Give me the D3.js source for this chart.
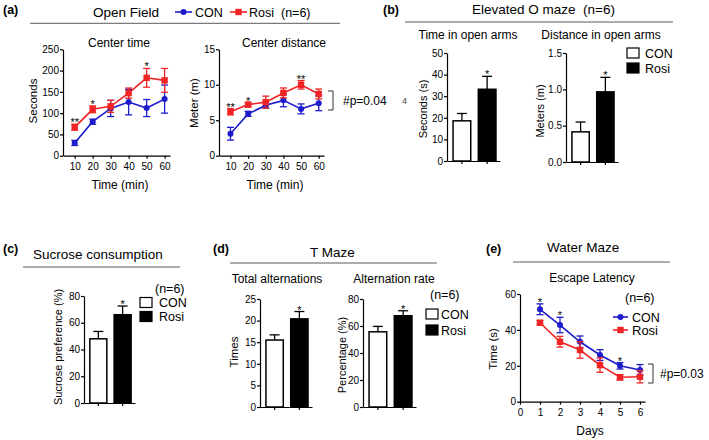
<!DOCTYPE html>
<html><head><meta charset="utf-8">
<script src="https://cdn.jsdelivr.net/npm/d3@7"></script>
<style>
body{margin:0;background:#fff}
svg{display:block;font-family:"Liberation Sans",Arial,sans-serif}
</style></head><body>
<svg id="chart" width="709" height="440"></svg>
<script>
// ---------- DATA ----------
const groups = ["CON", "Rosi"];
const timePoints = [10, 20, 30, 40, 50, 60];
const centerTimeCON = [30, 80, 111, 126, 112, 133];
const centerTimeCONErr = [6, 6, 19, 30, 20, 33];
const centerTimeRosi = [67, 109, 116, 147, 183, 177];
const centerTimeRosiErr = [7, 8, 14, 12, 22, 28];
const centerTimeStars = ["**", "*", "", "", "*", ""];
const centerDistCON = [3.1, 5.9, 7.1, 7.8, 6.6, 7.4];
const centerDistCONErr = [0.9, 0.35, 0.4, 0.9, 0.7, 1.05];
const centerDistRosi = [6.2, 7.2, 7.55, 8.85, 10.0, 8.7];
const centerDistRosiErr = [0.45, 0.3, 0.85, 0.7, 0.6, 0.7];
const centerDistStars = ["**", "*", "", "", "**", ""];
const timeTicks = [10, 20, 30, 40, 50, 60];
const secondsTicks = [0, 50, 100, 150, 200, 250];
const meterTicks = [0, 5, 10, 15];

const openArmTime = [18.6, 33.2];
const openArmTimeErr = [3.4, 6.0];
const openArmDist = [0.415, 0.965];
const openArmDistErr = [0.135, 0.2];
const openArmTimeTicks = [0, 10, 20, 30, 40, 50];
const openArmDistTicks = [0, 0.5, 1.0, 1.5];

const sucrosePref = [48, 66];
const sucrosePrefErr = [5.5, 6.5];
const sucroseTicks = [0, 20, 40, 60, 80];

const totalAlt = [15.5, 20.4];
const totalAltErr = [1.2, 1.7];
const totalAltTicks = [0, 5, 10, 15, 20, 25];
const altRate = [55.7, 67.6];
const altRateErr = [4, 3.7];
const altRateTicks = [0, 20, 40, 60, 80];

const days = [1, 2, 3, 4, 5, 6];
const escapeCON = [51.5, 42.7, 33.4, 26, 20, 17.7];
const escapeCONErr = [3, 4.3, 3.2, 3, 1.8, 3];
const escapeRosi = [44, 33.4, 28.8, 20.4, 13.6, 13.9];
const escapeRosiErr = [1.2, 3, 4.6, 4, 1.5, 3.4];
const escapeStars = ["*", "*", "", "", "*", ""];
const dayTicks = [0, 1, 2, 3, 4, 5, 6];
const escapeTicks = [0, 20, 40, 60];

// ---------- DRAWING ----------
const svg = d3.select("#chart");
const BLUE = "#1c1ccc", RED = "#f02424", RULE = "#5a5a5a";

function txt(x, y, s, o = {}) {
  const t = svg.append("text").attr("x", x).attr("y", y).text(s)
    .attr("font-size", o.size || 12).attr("fill", o.fill || "#000")
    .attr("text-anchor", o.anchor || "start");
  if (o.bold) t.attr("font-weight", "bold");
  if (o.pre) t.style("white-space", "pre");
  return t;
}
function vtxt(cx, cy, s, size) {
  svg.append("text").attr("transform", `translate(${cx},${cy}) rotate(-90)`)
    .attr("text-anchor", "middle").attr("dy", "0.35em").attr("font-size", size || 11).text(s);
}
function rule(x1, x2, y) {
  svg.append("line").attr("x1", x1).attr("x2", x2).attr("y1", y).attr("y2", y)
    .attr("stroke", RULE).attr("stroke-width", 1);
}
function styleAxis(g) {
  g.attr("font-family", null).attr("font-size", 10);
  g.select(".domain").attr("stroke", "#000").attr("stroke-width", 1.2);
  g.selectAll(".tick line").attr("stroke", "#000").attr("stroke-width", 1.2);
  g.selectAll(".tick text").attr("fill", "#000");
}
function marker(g, kind, cx, cy, color) {
  if (kind === "circle") g.append("circle").attr("cx", cx).attr("cy", cy).attr("r", 3).attr("fill", color);
  else g.append("rect").attr("x", cx - 3.2).attr("y", cy - 3.2).attr("width", 6.4).attr("height", 6.4).attr("fill", color);
}

function lineChart(c) {
  const x = d3.scaleLinear().domain(c.xDomain).range(c.xRange);
  const y = d3.scaleLinear().domain([0, d3.max(c.yTicks)]).range(c.yRange);
  const g = svg.append("g");
  g.append("g").attr("transform", `translate(0,${c.yRange[0]})`)
    .call(d3.axisBottom(x).tickValues(c.xTicks).tickSize(3).tickPadding(c.xPad || 4).tickSizeOuter(0).tickFormat(d3.format("d")))
    .call(styleAxis);
  g.append("g").attr("transform", `translate(${c.xRange[0]},0)`)
    .call(d3.axisLeft(y).tickValues(c.yTicks).tickSize(3).tickPadding(1).tickSizeOuter(0).tickFormat(d3.format("d")))
    .call(styleAxis);
  c.series.forEach(s => {
    const pts = c.xVals.map((xv, i) => ({ x: xv, v: s.vals[i], e: s.errs[i] }));
    g.append("path").datum(pts)
      .attr("d", d3.line().x(d => x(d.x)).y(d => y(d.v)))
      .attr("fill", "none").attr("stroke", s.color).attr("stroke-width", 1.6);
    const eg = g.append("g").attr("stroke", s.color).attr("stroke-width", 1.3);
    pts.forEach(d => {
      const px = x(d.x), y1 = y(d.v + d.e), y2 = y(d.v - d.e);
      eg.append("line").attr("x1", px).attr("x2", px).attr("y1", y1).attr("y2", y2);
      [y1, y2].forEach(yy => eg.append("line").attr("x1", px - 3.5).attr("x2", px + 3.5).attr("y1", yy).attr("y2", yy));
    });
    pts.forEach(d => marker(g, s.marker, x(d.x), y(d.v), s.color));
  });
  c.stars.forEach((st, i) => {
    if (!st) return;
    const top = d3.max(c.series, s => s.vals[i] + s.errs[i]);
    g.append("text").attr("x", x(c.xVals[i])).attr("y", y(top) - 5 + 7)
      .attr("text-anchor", "middle").attr("font-size", 11).text(st);
  });
  return { x, y };
}

function barChart(c) {
  const x = d3.scaleBand().domain(groups).range(c.xRange).paddingInner(0.3).paddingOuter(0.2).align(0.6);
  const y = d3.scaleLinear().domain([0, d3.max(c.yTicks)]).range(c.yRange);
  const g = svg.append("g");
  const fills = ["#fff", "#000"];
  groups.forEach((k, i) => {
    const bx = x(k), bw = x.bandwidth(), cx = bx + bw / 2;
    const top = y(c.vals[i]), et = y(c.vals[i] + c.errs[i]);
    g.append("line").attr("x1", cx).attr("x2", cx).attr("y1", top).attr("y2", et).attr("stroke", "#000").attr("stroke-width", 1.3);
    g.append("line").attr("x1", cx - 5).attr("x2", cx + 5).attr("y1", et).attr("y2", et).attr("stroke", "#000").attr("stroke-width", 1.3);
    g.append("rect").attr("x", bx).attr("y", top).attr("width", bw).attr("height", y(0) - top)
      .attr("fill", fills[i]).attr("stroke", "#000").attr("stroke-width", 1.5);
    if (c.stars[i]) g.append("text").attr("x", cx).attr("y", et - 5 + 7).attr("text-anchor", "middle").attr("font-size", 11).text(c.stars[i]);
  });
  g.append("g").attr("transform", `translate(0,${c.yRange[0]})`)
    .call(d3.axisBottom(x).tickSize(3).tickSizeOuter(0).tickFormat(""))
    .call(styleAxis);
  g.append("g").attr("transform", `translate(${c.xRange[0]},0)`)
    .call(d3.axisLeft(y).tickValues(c.yTicks).tickSize(3).tickPadding(1).tickSizeOuter(0).tickFormat(c.fmt || d3.format("d")))
    .call(styleAxis);
}

function boxLegend(x, y0, dy, textX, size) {
  groups.forEach((k, i) => {
    svg.append("rect").attr("x", x).attr("y", y0 + i * dy).attr("width", 12).attr("height", 10)
      .attr("fill", i ? "#000" : "#fff").attr("stroke", "#000").attr("stroke-width", 1.2);
    txt(textX, y0 + i * dy + 9.5, k, { size: size || 12.5 });
  });
}
function bracket(x, y1, y2, label, lx, ly) {
  svg.append("path").attr("d", `M${x - 5},${y1}H${x}V${y2}H${x - 5}`).attr("fill", "none")
    .attr("stroke", "#333").attr("stroke-width", 1);
  txt(lx, ly, label, { size: 12 });
}

// ===== (a) Open Field =====
txt(3, 14, "(a)", { size: 12.5, bold: true });
txt(93, 16.5, "Open Field", { size: 13.5 });
svg.append("line").attr("x1", 175).attr("x2", 192).attr("y1", 12).attr("y2", 12).attr("stroke", BLUE).attr("stroke-width", 1.6);
marker(svg, "circle", 183.5, 12, BLUE);
txt(195, 16.5, "CON", { size: 12.5 });
svg.append("line").attr("x1", 230).attr("x2", 247).attr("y1", 12).attr("y2", 12).attr("stroke", RED).attr("stroke-width", 1.6);
marker(svg, "rect", 238.5, 12, RED);
txt(249, 16.5, "Rosi", { size: 12.5 });
txt(281, 16.5, "(n=6)", { size: 12.5 });
rule(30, 340, 23.3);

txt(119, 47, "Center time", { size: 12, anchor: "middle" });
lineChart({
  xDomain: [3.5, 63], xRange: [63, 170], yRange: [155.7, 49.3],
  xTicks: timeTicks, yTicks: secondsTicks, xVals: timePoints,
  series: [
    { vals: centerTimeCON, errs: centerTimeCONErr, color: BLUE, marker: "circle" },
    { vals: centerTimeRosi, errs: centerTimeRosiErr, color: RED, marker: "rect" }
  ],
  stars: centerTimeStars
});
vtxt(33, 101, "Seconds", 11.5);
txt(120, 189, "Time (min)", { size: 12, anchor: "middle" });

txt(284, 47, "Center distance", { size: 12, anchor: "middle" });
lineChart({
  xDomain: [3.5, 63], xRange: [219, 324], yRange: [155.7, 49.3],
  xTicks: timeTicks, yTicks: meterTicks, xVals: timePoints,
  series: [
    { vals: centerDistCON, errs: centerDistCONErr, color: BLUE, marker: "circle" },
    { vals: centerDistRosi, errs: centerDistRosiErr, color: RED, marker: "rect" }
  ],
  stars: centerDistStars
});
vtxt(193.5, 103, "Meter (m)", 11.5);
txt(275, 189, "Time (min)", { size: 12, anchor: "middle" });
bracket(333, 91, 110, "#p=0.04", 343, 104.5);
txt(402, 104, "4", { size: 9, fill: "#444" });

// ===== (b) Elevated O maze =====
txt(383, 14, "(b)", { size: 12.5, bold: true });
txt(472, 13.5, "Elevated O maze  (n=6)", { size: 13.5, pre: true });
rule(405, 673, 22);
txt(468, 39, "Time in open arms", { size: 12, anchor: "middle" });
barChart({ xRange: [447, 500], yRange: [161, 53], yTicks: openArmTimeTicks, vals: openArmTime, errs: openArmTimeErr, stars: ["", "*"] });
vtxt(423, 109, "Seconds (s)", 11);
txt(601, 39, "Distance in open arms", { size: 12, anchor: "middle" });
barChart({ xRange: [566, 618], yRange: [162, 53], yTicks: openArmDistTicks, vals: openArmDist, errs: openArmDistErr, stars: ["", "*"], fmt: d3.format(".1f") });
vtxt(540, 111, "Meters (m)", 11);
boxLegend(627, 48, 15, 645, 12.5);

// ===== (c) Sucrose consumption =====
txt(3, 253, "(c)", { size: 12.5, bold: true });
txt(33, 258.5, "Sucrose consumption", { size: 13.5 });
rule(23, 180, 267);
barChart({ xRange: [84, 135], yRange: [403, 296], yTicks: sucroseTicks, vals: sucrosePref, errs: sucrosePrefErr, stars: ["", "*"] });
vtxt(58, 347, "Sucrose preference (%)", 11);
txt(155, 292.5, "(n=6)", { size: 12.5 });
boxLegend(140, 297.5, 14, 159, 12.5);

// ===== (d) T Maze =====
txt(213, 253, "(d)", { size: 12.5, bold: true });
txt(310, 256.5, "T Maze", { size: 13.5 });
rule(230, 437, 263);
txt(277, 283, "Total alternations", { size: 12, anchor: "middle" });
barChart({ xRange: [260, 312], yRange: [407, 299], yTicks: totalAltTicks, vals: totalAlt, errs: totalAltErr, stars: ["", "*"] });
vtxt(234, 352, "Times", 11.5);
txt(394, 283, "Alternation rate", { size: 12, anchor: "middle" });
barChart({ xRange: [363, 416], yRange: [407, 299], yTicks: altRateTicks, vals: altRate, errs: altRateErr, stars: ["", "*"] });
vtxt(342.5, 355, "Percentage (%)", 11);
txt(430, 298.5, "(n=6)", { size: 12.5 });
boxLegend(426, 309, 16, 441, 12.5);

// ===== (e) Water Maze =====
txt(486, 253, "(e)", { size: 12.5, bold: true });
txt(547, 251.7, "Water Maze", { size: 13.5 });
rule(513, 670, 262);
txt(592, 281.5, "Escape Latency", { size: 12, anchor: "middle" });
lineChart({
  xDomain: [0, 6.25], xRange: [520, 645], yRange: [401.7, 294],
  xTicks: dayTicks, yTicks: escapeTicks, xVals: days, xPad: 4.5,
  series: [
    { vals: escapeCON, errs: escapeCONErr, color: BLUE, marker: "circle" },
    { vals: escapeRosi, errs: escapeRosiErr, color: RED, marker: "rect" }
  ],
  stars: escapeStars
});
vtxt(493, 349, "Time (s)", 11.5);
txt(590, 435, "Days", { size: 12, anchor: "middle" });
txt(625, 302, "(n=6)", { size: 12.5 });
svg.append("line").attr("x1", 613).attr("x2", 628).attr("y1", 317).attr("y2", 317).attr("stroke", BLUE).attr("stroke-width", 1.6);
marker(svg, "circle", 620.5, 317, BLUE);
txt(632, 321.5, "CON", { size: 12.5 });
svg.append("line").attr("x1", 613).attr("x2", 628).attr("y1", 330).attr("y2", 330).attr("stroke", RED).attr("stroke-width", 1.6);
marker(svg, "rect", 620.5, 330, RED);
txt(632, 335, "Rosi", { size: 13 });
bracket(653, 364, 383, "#p=0.03", 660, 378);
</script>
</body></html>
